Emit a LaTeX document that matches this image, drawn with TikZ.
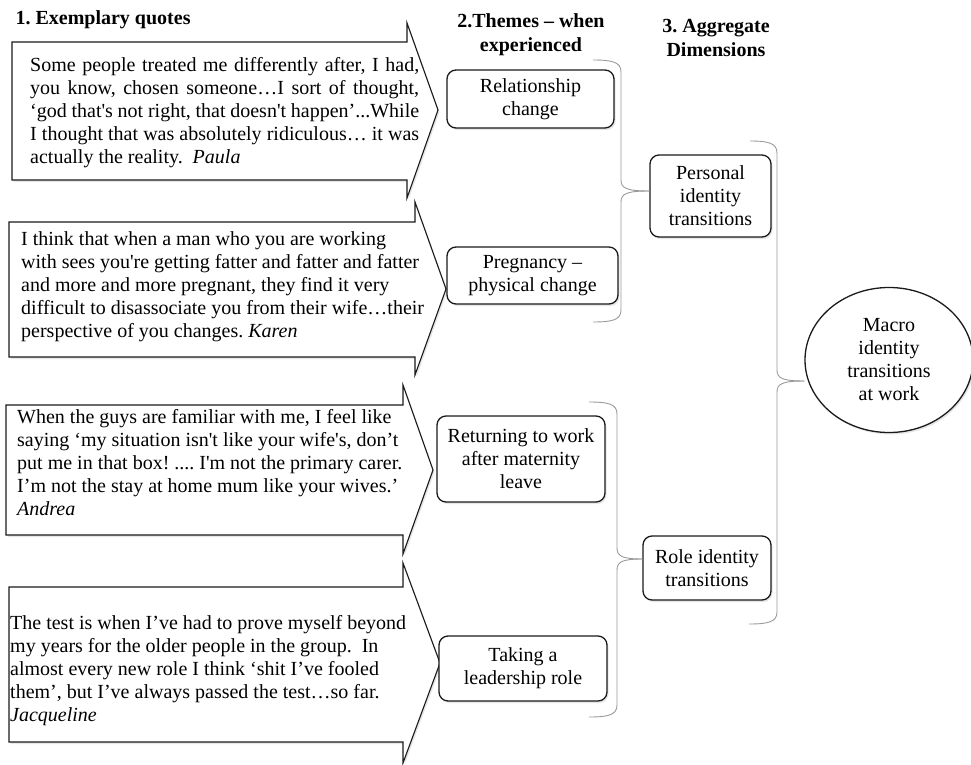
\documentclass[tikz,border=0pt]{standalone}
\usepackage{fontspec}
\setmainfont{Liberation Serif}
\usepackage{tikz}
\usetikzlibrary{shapes.geometric,shadows,calc}
\definecolor{QuoteLine}{HTML}{1A1A1A}
\definecolor{BraceGray}{HTML}{9A9A9A}
\newcommand{\sq}{\textquotesingle}

\begin{document}
\frenchspacing
\begin{tikzpicture}[x=1pt,y=-1pt,font=\fontsize{20}{23}\selectfont,text=black,
  quote/.style={fill=white,draw=QuoteLine,line width=1.1pt,
    drop shadow={shadow xshift=1.5pt,shadow yshift=-2pt,opacity=0.2}},
  quotetext/.style={anchor=west,align=left,inner sep=0pt},
  theme/.style={draw=QuoteLine,line width=1.3pt,rounded corners=9pt,fill=white,
    align=center,inner sep=2pt,
    drop shadow={shadow xshift=1.5pt,shadow yshift=-2pt,opacity=0.2}},
  macro/.style={ellipse,draw=QuoteLine,line width=1.3pt,fill=white,align=center,
    inner sep=0pt,minimum width=168pt,minimum height=145pt,
    drop shadow={shadow xshift=1.5pt,shadow yshift=-2pt,opacity=0.2}},
  brace/.style={draw=BraceGray,line width=0.9pt},
  heading/.style={font=\fontsize{20}{24}\selectfont\bfseries,align=center}]
 \useasboundingbox (0,0) rectangle (971,765);

 % column headings
 \node[heading,anchor=west] (h1) at (12,20) {1. Exemplary quotes};
 \node[heading] (h2) at (531,35) {2.Themes -- when\\experienced};
 \node[heading] (h3) at (716,38) {3. Aggregate\\Dimensions};

 % quote arrows
 \filldraw[quote] (12,42) -- (407,42) -- (407,23) -- (438,110) -- (407,198) -- (407,180) -- (12,180) -- cycle;
 \filldraw[quote] (9,222) -- (415,222) -- (415,202) -- (446,289) -- (415,375) -- (415,357) -- (9,357) -- cycle;
 \filldraw[quote] (6,405) -- (403,405) -- (403,385) -- (433,470) -- (403,554) -- (403,535) -- (6,535) -- cycle;
 \filldraw[quote] (9,587) -- (403,587) -- (403,563) -- (440,663) -- (403,763) -- (403,742) -- (9,742) -- cycle;

 \node[quotetext,align=justify,text width=389pt] (q1) at (30,113) {Some people treated me differently after, I had,\linebreak
   you know, chosen someone…I sort of thought,\linebreak
   ‘god that\sq s not right, that doesn\sq t happen’...While\linebreak
   I thought that was absolutely ridiculous… it was\linebreak
   actually the reality.\ \ \textit{Paula}};
 \node[quotetext] (q2) at (21,287) {I think that when a man who you are working\\
   with sees you\sq re getting fatter and fatter and fatter\\
   and more and more pregnant, they find it very\\
   difficult to disassociate you from their wife…their\\
   perspective of you changes. \textit{Karen}};
 \node[quotetext] (q3) at (17,463) {When the guys are familiar with me, I feel like\\
   saying ‘my situation isn\sq t like your wife\sq s, don’t\\
   put me in that box! .... I\sq m not the primary carer.\\
   I’m not the stay at home mum like your wives.’\\
   \textit{Andrea}};
 \node[quotetext] (q4) at (10,671) {The test is when I’ve had to prove myself beyond\\
   my years for the older people in the group.\ \ In\\
   almost every new role I think ‘shit I’ve fooled\\
   them’, but I’ve always passed the test…so far.\\
   \textit{Jacqueline}};

 % themes
 \node[theme,minimum width=167pt,minimum height=58pt] (rel) at (530.5,99) {Relationship\\change};
 \node[theme,minimum width=171pt,minimum height=57pt] (preg) at (532.5,275.5) {Pregnancy --\\physical change};
 \node[theme,minimum width=168pt,minimum height=86pt] (ret) at (521,459) {Returning to work\\after maternity\\leave};
 \node[theme,minimum width=168pt,minimum height=65pt] (lead) at (523,668.5) {Taking a\\leadership role};

 % aggregate dimensions
 \node[theme,minimum width=121pt,minimum height=82pt] (pers) at (710.5,196) {Personal\\identity\\transitions};
 \node[theme,minimum width=128pt,minimum height=64pt] (role) at (707,568) {Role identity\\transitions};
 \node[macro] (work) at (889,360) {Macro\\identity\\transitions\\at work};

 % braces
 \coordinate (b1top) at (593,60);
 \coordinate (b1bot) at (593,322);
 \coordinate (b1mid) at (621,191);
 \draw[brace] (b1top) .. controls (612,60) and (621,62) .. (621,72) -- (621,180)
   .. controls (621,188) and (626,191) .. (b1mid -| pers.west);
 \draw[brace] (b1mid -| pers.west) .. controls (626,191) and (621,194) .. (621,202)
   -- (621,310) .. controls (621,320) and (612,322) .. (b1bot);

 \coordinate (b2top) at (750,141);
 \coordinate (b2bot) at (749,624);
 \coordinate (b2mid) at (777,381);
 \draw[brace] (b2top) .. controls (768,141) and (777,143) .. (777,153) -- (777,370)
   .. controls (777,378) and (782,381) .. (b2mid -| work.west);
 \draw[brace] (b2mid -| work.west) .. controls (782,381) and (777,384) .. (777,392)
   -- (777,612) .. controls (777,622) and (768,624) .. (b2bot);

 \coordinate (b3top) at (589,402);
 \coordinate (b3bot) at (589,717);
 \coordinate (b3mid) at (617,559);
 \draw[brace] (b3top) .. controls (608,402) and (617,404) .. (617,414) -- (617,548)
   .. controls (617,556) and (622,559) .. (b3mid -| role.west);
 \draw[brace] (b3mid -| role.west) .. controls (622,559) and (617,562) .. (617,570)
   -- (617,705) .. controls (617,715) and (608,717) .. (b3bot);
\end{tikzpicture}
\end{document}
